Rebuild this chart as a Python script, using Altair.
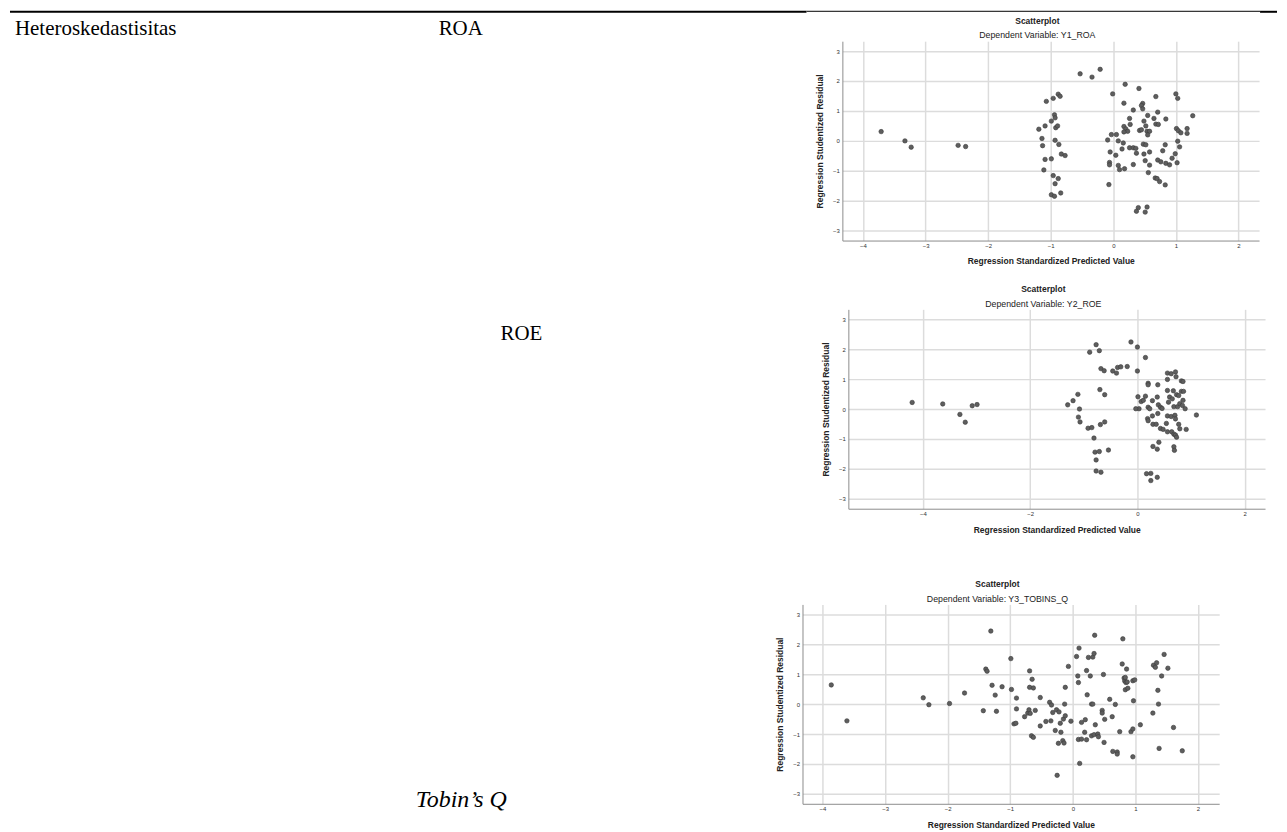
import altair as alt
import pandas as pd

# ---------------- data ----------------
roa_x = [-3.71, -3.33, -3.23, -2.48, -2.36, -0.53, -0.34, -0.21,
         -1.07, -0.96, -0.88, -0.85, -0.94, -0.93, -0.99, -1.09, -1.19, -0.92, -0.89,
         -1.14, -1.13, -0.93, -0.87, -0.83, -0.77, -1.09, -0.99, -1.11, -0.96, -0.88,
         -0.93, -0.99, -0.94, -0.84,
         -0.01, 0.19, 0.41, 0.17, 0.47, 0.45, 0.47, 0.32, 0.68, 1.00, 1.03, 0.71,
         0.55, 0.26, 0.65, 0.84, 1.27, 0.27, 0.17, 0.20, 0.49, 0.52, 0.68, 0.72,
         0.23, 0.17, 0.42, 0.45, 0.54, 0.58, 0.55, -0.03, 0.05, -0.09, 0.08, 0.16,
         0.14, 0.26, 0.32, 0.36, 0.37, 0.48, 0.52, 0.58, 0.49, -0.05, 0.04, -0.06,
         -0.06, 0.08, 0.10, 0.18, 0.32, 0.51, 0.58, 0.56, 0.71, 0.76, 0.67, 0.70,
         0.74, 0.83, -0.07, 0.79, 0.83, 0.84, 0.90, 0.94, 0.99, 1.06, 1.03, 1.02,
         1.01, 1.04, 1.08, 1.18, 1.18, 0.40, 0.37, 0.51, 0.54]
roa_y = [0.31, 0.00, -0.21, -0.15, -0.19, 2.24, 2.13, 2.39,
         1.32, 1.42, 1.56, 1.49, 0.87, 0.77, 0.66, 0.50, 0.39, 0.44, 0.50,
         0.08, -0.16, 0.02, -0.12, -0.44, -0.49, -0.62, -0.60, -0.97, -1.16, -1.26,
         -1.43, -1.80, -1.85, -1.74,
         1.57, 1.89, 1.75, 1.26, 1.25, 1.18, 1.07, 1.03, 1.48, 1.57, 1.42, 0.96,
         0.85, 0.75, 0.75, 0.73, 0.84, 0.55, 0.48, 0.40, 0.66, 0.50, 0.56, 0.55,
         0.32, 0.30, 0.35, 0.37, 0.32, 0.32, 0.20, 0.21, 0.21, 0.03, 0.00, -0.07,
         -0.27, -0.23, -0.23, -0.25, -0.41, -0.11, -0.13, -0.37, -0.44, -0.37, -0.48, -0.72,
         -0.80, -0.82, -0.96, -0.93, -0.79, -0.66, -0.81, -1.06, -0.64, -0.70, -1.24, -1.26,
         -1.36, -1.47, -1.46, -0.33, -0.13, -0.75, -0.80, -0.58, -0.43, -0.20, -0.01, -0.73,
         0.41, 0.34, 0.27, 0.41, 0.25, -2.23, -2.35, -2.38, -2.21]

roe_x = [-4.20, -3.63, -3.31, -3.21, -3.08, -2.99,
         -1.30, -1.20, -1.11, -1.08, -1.10, -1.07, -0.92, -0.85, -0.81, -0.79, -0.71,
         -0.77, -0.77, -0.68, -0.54, -0.69, -0.61, -0.70, -0.61, -0.89, -0.77, -0.71,
         -0.68, -0.62, -0.46, -0.39, -0.37, -0.31, -0.19, -0.12, 0.00, 0.15, 0.00,
         0.01, 0.03, -0.03, 0.07, 0.11, 0.15, 0.20, 0.20, 0.20, 0.23, 0.19, 0.20,
         0.28, 0.29, 0.35, 0.28, 0.37, 0.38, 0.39, 0.38, 0.43, 0.46, 0.40, 0.29,
         0.37, 0.43, 0.48, 0.54, 0.56, 0.58, 0.60, 0.56, 0.56, 0.63, 0.71, 0.72,
         0.67, 0.65, 0.68, 0.73, 0.77, 0.75, 0.79, 0.84, 0.89, 0.82, 0.85, 0.82,
         0.86, 0.85, 0.56, 0.63, 0.70, 0.71, 0.77, 0.56, 0.64, 0.68, 0.71, 0.73,
         0.79, 0.91, 0.68, 0.69, 1.10, 0.17, 0.25, 0.25, 0.37]
roe_y = [0.22, 0.17, -0.18, -0.44, 0.11, 0.15,
         0.14, 0.28, 0.49, 0.00, -0.27, -0.43, -0.64, -0.62, -0.97, -1.44, -1.42,
         -1.70, -2.07, -2.11, -1.37, -0.52, -0.43, 0.65, 0.48, 1.90, 2.15, 1.95,
         1.35, 1.28, 1.27, 1.20, 1.39, 1.41, 1.42, 2.24, 2.07, 1.72, 1.27,
         0.41, 0.01, 0.01, 0.25, 0.29, 0.43, 0.86, 0.81, 0.06, 0.01, -0.32, -0.39,
         -0.23, -0.51, -0.51, 0.28, 0.40, 0.81, 0.14, -0.15, 0.06, 0.02, -1.11, -1.25,
         -1.34, -0.65, -0.68, -0.48, 0.62, 0.23, 0.40, 0.99, 1.20, 1.18, 1.24, 1.08,
         0.61, 0.34, 0.08, 0.48, 0.45, 0.08, 0.18, 0.12, 0.01, 0.94, 0.92, 0.59,
         0.59, 0.29, -0.23, -0.25, -0.21, -0.33, -0.51, -0.76, -0.76, -0.84, -0.87, -0.94,
         -0.66, -0.68, -1.26, -1.38, -0.20, -2.16, -2.15, -2.39, -2.28]

tq_x = [-3.86, -3.61, -2.39, -2.30, -1.97, -1.73, -1.43, -1.39, -1.37, -1.31,
        -1.29, -1.24, -1.22, -1.13, -0.99, -0.98, -0.94, -0.91, -0.90, -0.90,
        -0.77, -0.72, -0.70, -0.69, -0.69, -0.68, -0.66, -0.63, -0.65, -0.63,
        -0.60, -0.52, -0.52, -0.43, -0.37, -0.34, -0.35, -0.32, -0.28, -0.26,
        -0.22, -0.25, -0.23, -0.20, -0.19, -0.16, -0.14, -0.15, -0.13, -0.12,
        -0.12, -0.07, -0.03, 0.06, 0.08, 0.09, 0.10, 0.09, 0.11, 0.14,
        0.14, 0.20, 0.19, 0.22, 0.23, 0.22, 0.25, 0.28, 0.30, 0.32,
        0.30, 0.32, 0.34, 0.35, 0.36, 0.34, 0.40, 0.41, 0.49, 0.47,
        0.47, 0.50, 0.51, 0.59, 0.63, 0.64, 0.68, 0.71, 0.71, 0.75,
        0.79, 0.80, 0.82, 0.83, 0.84, 0.85, 0.86, 0.84, 0.88, 0.87,
        0.96, 0.99, 0.93, 0.96, 0.97, 0.96, 1.08, 1.28, 1.29, 1.32,
        1.34, 1.36, 1.37, 1.38, 1.42, 1.46, 1.52, 1.61, 1.75]
tq_y = [0.64, -0.56, 0.21, -0.02, 0.02, 0.37, -0.22, 1.17, 1.10, 2.44,
        0.63, 0.30, -0.24, 0.58, 1.52, 0.49, -0.66, -0.64, 0.20, -0.16,
        -0.42, -0.30, -0.19, 1.11, 0.56, -0.31, -1.06, -1.11, 0.83, 0.54,
        -0.21, 0.22, -0.73, -0.58, 0.06, -0.03, -0.56, -0.28, -0.88, -0.19,
        -0.26, -2.38, -1.31, -0.64, -0.94, -1.22, -1.30, -0.50, 0.00, -0.39,
        0.56, 1.26, -0.57, 1.59, 0.94, 0.72, 1.87, -1.18, -1.98, -1.17,
        -0.61, -0.52, -0.94, 1.12, 0.31, -1.19, 1.56, 0.94, 0.00, 0.00,
        -1.06, 1.57, 1.69, 2.30, -0.69, -1.02, -1.00, -1.09, 0.99, -0.21,
        -0.30, -1.28, -0.51, 0.16, -0.42, -1.58, -0.01, -1.60, -1.67, -0.92,
        1.34, 2.18, 0.87, 0.77, 0.89, 0.72, 1.17, 0.48, 0.53, 0.74,
        0.78, 0.81, -0.92, -0.83, 0.11, -1.76, -0.69, -0.30, 1.30, 1.23,
        1.38, 0.46, 0.00, -1.48, 0.94, 1.66, 1.20, -0.78, -1.56]

panel_titles = ["Scatterplot", "Scatterplot", "Scatterplot"]
panel_subtitles = ["Dependent Variable: Y1_ROA", "Dependent Variable: Y2_ROE",
                   "Dependent Variable: Y3_TOBINS_Q"]
x_domains = [[-4.33, 2.33], [-5.39, 2.38], [-4.32, 2.34]]
x_ticks = [[-4, -3, -2, -1, 0, 1, 2], [-4, -2, 0, 2], [-4, -3, -2, -1, 0, 1, 2]]
y_ticks = [-3, -2, -1, 0, 1, 2, 3]
x_title = "Regression Standardized Predicted Value"
y_title = "Regression Studentized Residual"
row_label_1 = ["Heteroskedastisitas", "ROA"]
row_label_2 = ["ROE"]
row_label_3 = ["Tobin\u2019s Q"]

SANS = "Liberation Sans"
SERIF = "Liberation Serif"


def scatter(xs, ys, i, x_title_pad=8.5):
    df = pd.DataFrame({"x": xs, "y": ys})
    return alt.Chart(df).mark_circle(
        size=20, color="#5e5e5e", opacity=1, stroke="#3a3a3a", strokeWidth=0.6
    ).encode(
        x=alt.X("x:Q",
                scale=alt.Scale(domain=x_domains[i], nice=False, zero=False),
                axis=alt.Axis(values=x_ticks[i], title=x_title, labelPadding=2,
                              titlePadding=x_title_pad)),
        y=alt.Y("y:Q",
                scale=alt.Scale(domain=[-3.33, 3.33], nice=False, zero=False),
                axis=alt.Axis(values=y_ticks, title=y_title, labelPadding=3,
                              titlePadding=8)),
    ).properties(
        width=418, height=200,
        title=alt.TitleParams(
            text=panel_titles[i], subtitle=panel_subtitles[i],
            font=SANS, subtitleFont=SANS, fontSize=8.5, subtitleFontSize=8.8,
            fontWeight="bold", subtitleFontWeight="normal",
            color="#222222", subtitleColor="#222222",
            subtitlePadding=6, offset=1, anchor="middle", frame="bounds"),
    )


def label(text, x, y, italic=False, size=21):
    return alt.Chart(pd.DataFrame({"t": [text]})).mark_text(
        align="left", baseline="alphabetic", font=SERIF, fontSize=size,
        fontStyle="italic" if italic else "normal", color="#000000"
    ).encode(x=alt.value(x), y=alt.value(y), text="t:N")


one = pd.DataFrame({"a": [0]})
rule_thick_l = alt.Chart(one).mark_rule(color="#000000", strokeWidth=2).encode(
    x=alt.value(0), x2=alt.value(799), y=alt.value(1.5))
rule_thin = alt.Chart(one).mark_rule(color="#000000", strokeWidth=1).encode(
    x=alt.value(799), x2=alt.value(1254), y=alt.value(1))
rule_thick_r = alt.Chart(one).mark_rule(color="#000000", strokeWidth=2).encode(
    x=alt.value(1254), x2=alt.value(1271), y=alt.value(1.5))
row0 = alt.layer(rule_thick_l, rule_thin, rule_thick_r).properties(width=1271, height=5)

# left text panels: origin aligned with the scatter plot area of the same row
left1 = alt.layer(label(row_label_1[0], 5, -6), label(row_label_1[1], 430, -6)).properties(
    width=806, height=243)
left2 = alt.layer(label(row_label_2[0], 492, 31)).properties(width=812, height=270)
left3 = alt.layer(label(row_label_3[0], 407, 203, italic=True, size=24)).properties(
    width=766, height=200)

row1 = alt.hconcat(left1, scatter(roa_x, roa_y, 0), spacing=0)
row2 = alt.hconcat(left2, scatter(roe_x, roe_y, 1), spacing=0)
row3 = alt.hconcat(left3, scatter(tq_x, tq_y, 2), spacing=0)

chart = alt.vconcat(row0, row1, row2, row3, spacing=0).properties(
    padding=0
).configure_view(
    stroke="transparent"
).configure_axis(
    grid=True, gridColor="#dcdcdc", gridWidth=1.5,
    domainColor="#8c8c8c", domainWidth=1, ticks=False,
    labelFont=SANS, labelFontSize=6, labelColor="#333333",
    titleFont=SANS, titleFontSize=8.5, titleFontWeight="bold", titleColor="#222222",
)

chart.save("out.html", embed_options={"renderer": "svg", "actions": False})
